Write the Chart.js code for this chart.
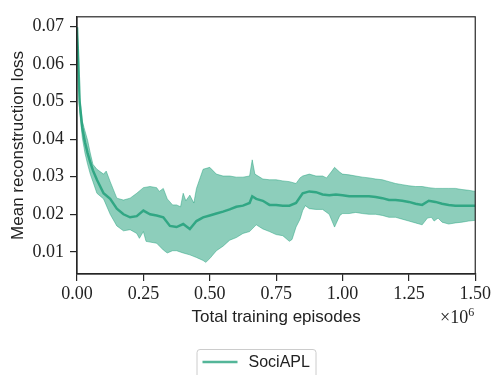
<!DOCTYPE html>
<html>
<head>
<meta charset="utf-8">
<script src="https://cdn.jsdelivr.net/npm/chart.js@4/dist/chart.umd.min.js"></script>
<style>
  html, body { margin: 0; padding: 0; background: #fff; }
  #chart { display: block; }
</style>
</head>
<body>
<canvas id="chart" width="493" height="375"></canvas>
<script>
// Values (x in millions of episodes)
const meanX = [0, 0.005, 0.01, 0.02, 0.03, 0.04, 0.05, 0.06, 0.075, 0.1, 0.125, 0.15, 0.175, 0.2, 0.225, 0.25, 0.275, 0.3, 0.325, 0.35, 0.375, 0.4, 0.425, 0.45, 0.475, 0.5, 0.525, 0.55, 0.575, 0.6, 0.625, 0.65, 0.66, 0.675, 0.7, 0.725, 0.75, 0.775, 0.8, 0.825, 0.85, 0.875, 0.9, 0.925, 0.95, 0.975, 1.0, 1.025, 1.05, 1.075, 1.1, 1.125, 1.15, 1.175, 1.2, 1.225, 1.25, 1.275, 1.3, 1.325, 1.35, 1.375, 1.4, 1.425, 1.45, 1.475, 1.5];
const meanY = [0.0698, 0.0601, 0.0499, 0.0430, 0.0392, 0.0363, 0.0338, 0.0317, 0.0292, 0.0256, 0.0241, 0.0215, 0.0200, 0.0192, 0.0195, 0.0210, 0.0200, 0.0197, 0.0192, 0.0169, 0.0166, 0.0174, 0.0161, 0.0182, 0.0192, 0.0197, 0.0202, 0.0207, 0.0213, 0.0220, 0.0223, 0.0230, 0.0248, 0.0241, 0.0236, 0.0225, 0.0225, 0.0223, 0.0223, 0.0230, 0.0256, 0.0261, 0.0259, 0.0253, 0.0251, 0.0253, 0.0251, 0.0248, 0.0248, 0.0248, 0.0248, 0.0246, 0.0243, 0.0238, 0.0238, 0.0236, 0.0233, 0.0228, 0.0225, 0.0236, 0.0233, 0.0228, 0.0225, 0.0223, 0.0223, 0.0223, 0.0223];

const upperX = [0, 0.005, 0.01, 0.02, 0.03, 0.04, 0.05, 0.06, 0.075, 0.1, 0.11, 0.125, 0.15, 0.175, 0.2, 0.225, 0.25, 0.275, 0.3, 0.31, 0.325, 0.34, 0.36, 0.375, 0.39, 0.4, 0.41, 0.425, 0.44, 0.45, 0.475, 0.5, 0.525, 0.55, 0.575, 0.6, 0.625, 0.65, 0.66, 0.67, 0.7, 0.725, 0.75, 0.775, 0.8, 0.825, 0.84, 0.85, 0.875, 0.9, 0.925, 0.94, 0.96, 0.97, 0.99, 1.0, 1.025, 1.05, 1.075, 1.1, 1.125, 1.15, 1.175, 1.2, 1.225, 1.25, 1.275, 1.3, 1.325, 1.35, 1.375, 1.4, 1.425, 1.45, 1.475, 1.5];
const upperY = [0.0698, 0.0640, 0.0512, 0.0448, 0.0422, 0.0397, 0.0363, 0.0333, 0.0320, 0.0307, 0.0315, 0.0287, 0.0243, 0.0238, 0.0243, 0.0256, 0.0271, 0.0274, 0.0271, 0.0261, 0.0269, 0.0241, 0.0225, 0.0225, 0.0220, 0.0256, 0.0236, 0.0251, 0.0230, 0.0269, 0.0320, 0.0325, 0.0307, 0.0302, 0.0302, 0.0299, 0.0299, 0.0302, 0.0345, 0.0307, 0.0294, 0.0292, 0.0292, 0.0289, 0.0287, 0.0282, 0.0297, 0.0302, 0.0307, 0.0302, 0.0302, 0.0297, 0.0315, 0.0325, 0.0312, 0.0307, 0.0305, 0.0302, 0.0299, 0.0297, 0.0294, 0.0292, 0.0287, 0.0282, 0.0279, 0.0276, 0.0274, 0.0274, 0.0271, 0.0269, 0.0269, 0.0269, 0.0269, 0.0266, 0.0264, 0.0261];

const lowerX = [0, 0.005, 0.01, 0.02, 0.03, 0.04, 0.05, 0.06, 0.075, 0.1, 0.125, 0.15, 0.175, 0.2, 0.225, 0.235, 0.25, 0.26, 0.275, 0.3, 0.325, 0.34, 0.36, 0.375, 0.4, 0.425, 0.45, 0.475, 0.485, 0.5, 0.525, 0.55, 0.575, 0.6, 0.625, 0.65, 0.675, 0.7, 0.725, 0.75, 0.775, 0.8, 0.81, 0.825, 0.84, 0.85, 0.86, 0.875, 0.9, 0.925, 0.95, 0.97, 0.99, 1.0, 1.025, 1.05, 1.075, 1.1, 1.125, 1.15, 1.175, 1.2, 1.225, 1.25, 1.275, 1.3, 1.32, 1.335, 1.345, 1.36, 1.375, 1.4, 1.425, 1.45, 1.475, 1.5];
const lowerY = [0.0698, 0.0588, 0.0473, 0.0404, 0.0363, 0.0333, 0.0307, 0.0287, 0.0256, 0.0241, 0.0200, 0.0169, 0.0156, 0.0159, 0.0149, 0.0136, 0.0154, 0.0128, 0.0126, 0.0123, 0.0105, 0.0097, 0.0103, 0.0103, 0.0097, 0.0092, 0.0085, 0.0077, 0.0072, 0.0082, 0.0103, 0.0115, 0.0131, 0.0138, 0.0149, 0.0154, 0.0172, 0.0161, 0.0154, 0.0146, 0.0143, 0.0128, 0.0133, 0.0166, 0.0187, 0.0210, 0.0223, 0.0215, 0.0213, 0.0213, 0.0200, 0.0166, 0.0197, 0.0202, 0.0202, 0.0205, 0.0202, 0.0200, 0.0200, 0.0197, 0.0192, 0.0192, 0.0187, 0.0182, 0.0177, 0.0172, 0.0190, 0.0192, 0.0182, 0.0190, 0.0179, 0.0174, 0.0177, 0.0179, 0.0182, 0.0184];

const xTicks = [0, 0.25, 0.5, 0.75, 1.0, 1.25, 1.5];
const yTicks = [0.01, 0.02, 0.03, 0.04, 0.05, 0.06, 0.07];

const seriesName = "SociAPL";
const baseColor = "27, 158, 119";

const toPoints = (xs, ys) => xs.map((x, i) => ({ x: x, y: ys[i] }));

// draws the top/right spines, the x10^6 offset text and the boxed legend
const extras = {
  id: "extras",
  afterDraw(chart) {
    const ctx = chart.ctx;
    const a = chart.chartArea;
    ctx.save();
    ctx.strokeStyle = "#262626";
    ctx.lineWidth = 1.2;
    ctx.strokeRect(a.left, a.top, a.right - a.left, a.bottom - a.top);

    // offset text
    ctx.fillStyle = "#222";
    ctx.textBaseline = "alphabetic";
    ctx.textAlign = "right";
    ctx.font = "12px 'Liberation Serif'";
    const supW = ctx.measureText("6").width;
    ctx.fillText("6", a.right - 1, 316);
    ctx.font = "18px 'Liberation Serif'";
    ctx.fillText("\u00d710", a.right - 1 - supW, 323);

    // legend
    const bx = chart.width / 2 - 50;
    const by = 349;
    ctx.strokeStyle = "#cccccc";
    ctx.lineWidth = 1;
    ctx.beginPath();
    ctx.roundRect(bx + 0.5, by + 0.5, 119, 40, 3);
    ctx.fillStyle = "rgba(255,255,255,0.8)";
    ctx.fill();
    ctx.stroke();
    ctx.strokeStyle = "rgba(" + baseColor + ", 0.75)";
    ctx.lineWidth = 2.5;
    ctx.beginPath();
    ctx.moveTo(bx + 6, by + 13);
    ctx.lineTo(bx + 41, by + 13);
    ctx.stroke();
    ctx.fillStyle = "#222";
    ctx.font = "16px 'Liberation Sans'";
    ctx.textAlign = "left";
    ctx.textBaseline = "middle";
    ctx.fillText(chart.data.datasets[0].label, bx + 52, by + 14);
    ctx.restore();
  }
};

const chart = new Chart(document.getElementById("chart"), {
  type: "line",
  data: {
    datasets: [
      {
        label: seriesName,
        data: toPoints(meanX, meanY),
        borderColor: "rgba(" + baseColor + ", 0.8)",
        borderWidth: 2.5,
        pointRadius: 0,
        fill: false
      },
      {
        label: "upper",
        data: toPoints(upperX, upperY),
        borderColor: "rgba(" + baseColor + ", 0.45)",
        borderWidth: 1,
        pointRadius: 0,
        backgroundColor: "rgba(" + baseColor + ", 0.5)",
        fill: 2
      },
      {
        label: "lower",
        data: toPoints(lowerX, lowerY),
        borderColor: "rgba(" + baseColor + ", 0.45)",
        borderWidth: 1,
        pointRadius: 0,
        fill: false
      }
    ]
  },
  options: {
    responsive: false,
    animation: false,
    devicePixelRatio: 1,
    layout: { padding: { left: 0, right: 17, top: 7, bottom: 0 } },
    plugins: {
      legend: { display: false },
      tooltip: { enabled: false }
    },
    scales: {
      x: {
        type: "linear",
        min: 0,
        max: 1.5,
        afterBuildTicks: (scale) => { scale.ticks = xTicks.map((v) => ({ value: v })); },
        afterFit: (scale) => { scale.height = 101; },
        grid: { drawOnChartArea: false, drawTicks: true, tickLength: 7, color: "#262626", lineWidth: 1.2 },
        border: { display: true, color: "#262626", width: 1.2 },
        ticks: {
          color: "#222",
          font: { family: "'Liberation Serif'", size: 18 },
          padding: 2,
          maxRotation: 0,
          callback: (v) => Number(v).toFixed(2)
        },
        title: {
          display: true,
          text: "Total training episodes",
          color: "#222",
          font: { family: "'Liberation Sans'", size: 17 },
          padding: { top: 0, bottom: 47 }
        }
      },
      y: {
        type: "linear",
        min: 0.0041,
        max: 0.0726,
        afterBuildTicks: (scale) => { scale.ticks = yTicks.map((v) => ({ value: v })); },
        afterFit: (scale) => { scale.width = 77; },
        grid: { drawOnChartArea: false, drawTicks: true, tickLength: 7, color: "#262626", lineWidth: 1.2 },
        border: { display: true, color: "#262626", width: 1.2 },
        ticks: {
          color: "#222",
          font: { family: "'Liberation Serif'", size: 18 },
          padding: 6,
          callback: (v) => Number(v).toFixed(2)
        },
        title: {
          display: true,
          text: "Mean reconstruction loss",
          color: "#222",
          font: { family: "'Liberation Sans'", size: 17 },
          padding: { top: 8, bottom: 0 }
        }
      }
    }
  },
  plugins: [extras]
});
</script>
</body>
</html>
